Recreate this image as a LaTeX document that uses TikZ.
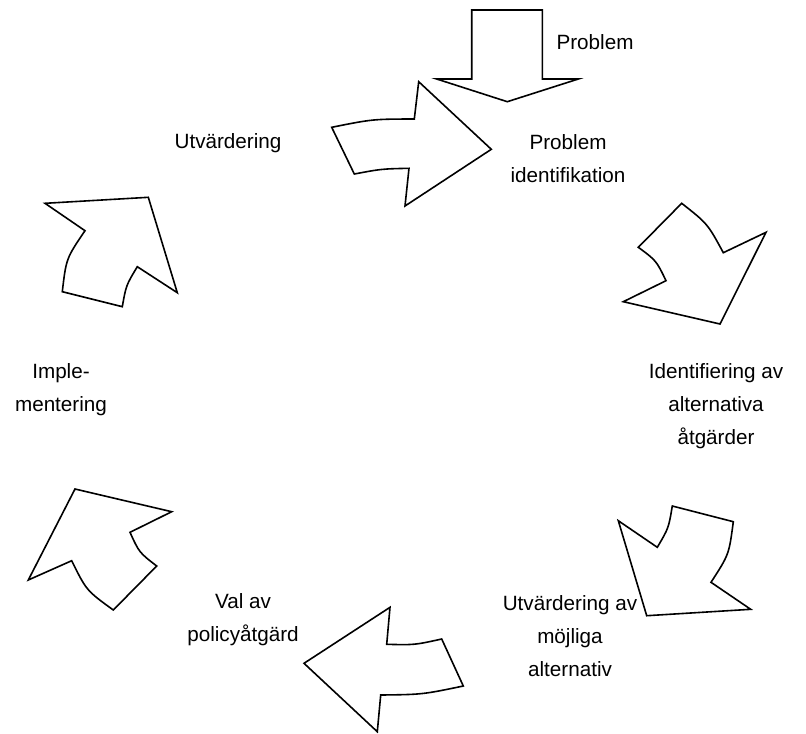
\documentclass[tikz,border=0pt]{standalone}
\usepackage{fontspec}
\setmainfont{Liberation Sans}
\begin{document}
\begin{tikzpicture}[x=0.75pt,y=-0.75pt,
  shp/.style={draw=black,line width=1.2pt,line join=miter,fill=white},
  lbl/.style={align=center,inner sep=0pt,font=\fontsize{15.5pt}{24.75pt}\selectfont}]
\useasboundingbox (0,0) rectangle (806,733);
% down arrow (Problem)
\draw[shp] (471.7,10) -- (542.3,10) -- (542.3,79) -- (578.3,79) -- (507.3,101.7) -- (436.7,79) -- (471.7,79) -- cycle;
% arrow 1: Utvardering -> Problem identifikation
\draw[shp] (331.7,127.3) .. controls (372.6,119.1) .. (414.3,119) -- (418.7,81.7) -- (491.3,149.3) -- (405,206) -- (409,168.3) .. controls (381.5,168.9) .. (354.3,174) -- cycle;
% arrow 3: right top
\draw[shp] (638.3,247.3) -- (681.7,203.3) .. controls (707.6,223.7) .. (723.3,252.7) -- (766,232.3) -- (720,324) -- (623.3,301.7) -- (666,280.7) .. controls (656.3,260.6) .. cycle;
% arrow 4: right bottom
\draw[shp] (618.3,520.7) -- (657.3,547.3) .. controls (668.6,528.1) .. (672.3,506) -- (733.3,521.7) .. controls (729,554.5) .. (711,582.3) -- (750.7,609.3) -- (646.7,615.7) -- cycle;
% arrow 5: bottom
\draw[shp] (390,607.3) -- (386.7,644.3) .. controls (414.5,645) .. (441.7,639) -- (463.3,686) .. controls (422.4,694.5) .. (380.7,695) -- (377.3,731.7) -- (304,663.3) -- cycle;
% arrow 6: left bottom
\draw[shp] (75,489) -- (171.7,511.7) -- (130,532.3) .. controls (139.2,552.5) .. (156.7,566) -- (113.3,610) .. controls (86.4,590.5) .. (71.7,560.7) -- (28.3,580) -- cycle;
% arrow 7: left top
\draw[shp] (45,203.3) -- (148.3,197.3) -- (177.3,292.7) -- (137.3,266.7) .. controls (126.1,285.3) .. (122.3,306.7) -- (62.3,291.7) .. controls (66.2,258.4) .. (85,230.7) -- cycle;
% labels
\node[lbl] (problem) at (595,42) {Problem};
\node[lbl] (probid) at (568,159) {Problem\\identifikation};
\node[lbl] (utv) at (228,143) {Utvärdering};
\node[lbl] (ident) at (716,406) {Identifiering av\\alternativa\\åtgärder};
\node[lbl] (utvmoj) at (570,636) {Utvärdering av\\möjliga\\alternativ};
\node[lbl] (val) at (243,619.5) {Val av\\policyåtgärd};
\node[lbl] (impl) at (61,389.5) {Imple-\\mentering};
\end{tikzpicture}
\end{document}
